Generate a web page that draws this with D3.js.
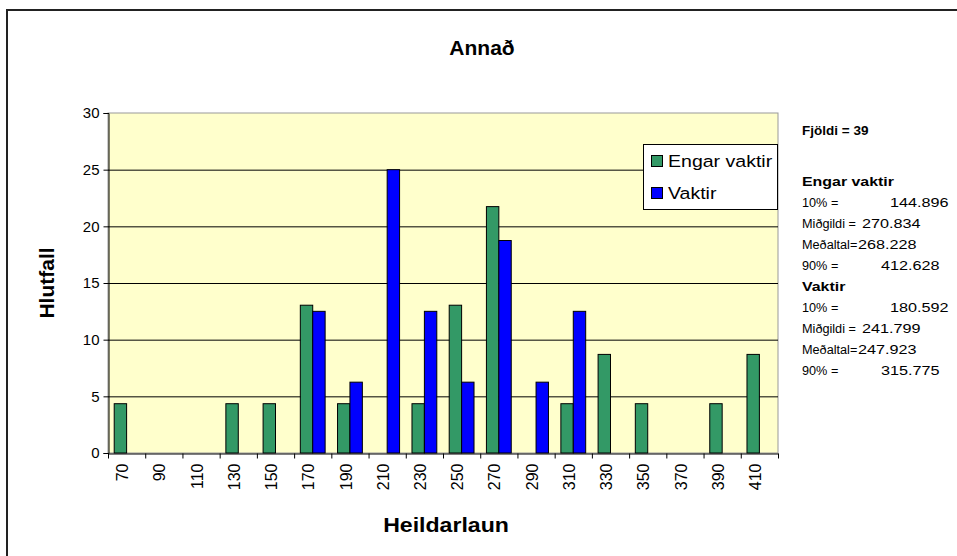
<!DOCTYPE html>
<html>
<head>
<meta charset="utf-8">
<script src="https://cdn.jsdelivr.net/npm/d3@7"></script>
<style>
  body { margin: 0; background: #fff; }
  text { font-family: "Liberation Sans", Arial, sans-serif; }
</style>
</head>
<body>
<div id="chart"></div>
<script>
// data
var categories = ["70", "90", "110", "130", "150", "170", "190", "210", "230", "250",
                  "270", "290", "310", "330", "350", "370", "390", "410"];
var engarVaktir = [4.35, 0, 0, 4.35, 4.35, 13.04, 4.35, 0, 4.35, 13.04,
                   21.74, 0, 4.35, 8.70, 4.35, 0, 4.35, 8.70];
var vaktir = [0, 0, 0, 0, 0, 12.5, 6.25, 25, 12.5, 6.25,
              18.75, 6.25, 12.5, 0, 0, 0, 0, 0];
var seriesNames = ["Engar vaktir", "Vaktir"];
var yTicks = [0, 5, 10, 15, 20, 25, 30];
var fjoldi = 39;
var statLabels = ["10% =", "Miðgildi =", "Meðaltal=", "90% ="];
var statsEngar = ["144.896", "270.834", "268.228", "412.628"];
var statsVaktir = ["180.592", "241.799", "247.923", "315.775"];

var colors = ["#339966", "#0000ff"];

var W = 957, H = 556;
var plot = { left: 108, top: 113, right: 778, bottom: 453 };

var svg = d3.select("#chart")
    .append("svg")
    .attr("width", W)
    .attr("height", H);

// text that is a bit wider than normal, like the excel export
function wideText(parent, x, y, s, str) {
    return parent.append("text")
        .attr("transform", "translate(" + x + "," + y + ") scale(" + s + ",1)")
        .text(str);
}

// outer frame
svg.append("rect")
    .attr("x", 7).attr("y", 10)
    .attr("width", W + 20).attr("height", H + 20)
    .attr("fill", "#fff")
    .attr("stroke", "#222")
    .attr("stroke-width", 2);

// scales
var x0 = d3.scaleBand()
    .domain(categories)
    .range([plot.left, plot.right]);
var bw = x0.bandwidth() / 3;   // gap width 100%
var y = d3.scaleLinear().domain([0, 30]).range([plot.bottom, plot.top]);

// plot area
svg.append("rect")
    .attr("x", plot.left).attr("y", plot.top)
    .attr("width", plot.right - plot.left)
    .attr("height", plot.bottom - plot.top)
    .attr("fill", "#ffffcc")
    .attr("stroke", "#999")
    .attr("stroke-width", 1);

// grid lines
svg.append("g")
    .selectAll("line")
    .data(yTicks.filter(function (d) { return d > 0 && d < 30; }))
    .enter().append("line")
    .attr("x1", plot.left).attr("x2", plot.right)
    .attr("y1", function (d) { return y(d) + 0.5; })
    .attr("y2", function (d) { return y(d) + 0.5; })
    .attr("stroke", "#000")
    .attr("stroke-width", 1);

// bars
var series = [engarVaktir, vaktir];
series.forEach(function (vals, si) {
    var pts = vals.map(function (v, i) { return { cat: categories[i], v: v }; })
        .filter(function (d) { return d.v > 0; });
    svg.append("g")
        .selectAll("rect")
        .data(pts)
        .enter().append("rect")
        .attr("x", function (d) { return x0(d.cat) + bw / 2 + si * bw; })
        .attr("y", function (d) { return y(d.v); })
        .attr("width", bw)
        .attr("height", function (d) { return y(0) - y(d.v); })
        .attr("fill", colors[si])
        .attr("stroke", "#000")
        .attr("stroke-width", 1);
});

// y axis
var yAxis = d3.axisLeft(y).tickValues(yTicks).tickSize(5).tickPadding(4);
var gy = svg.append("g")
    .attr("transform", "translate(" + (plot.left + 0.5) + ",0)")
    .call(yAxis);
gy.selectAll("text").style("font-size", "15px").attr("fill", "#000");
gy.selectAll("line, path").attr("stroke", "#000");

// x axis
var xAxis = d3.axisBottom(x0).tickSize(0).tickPadding(0);
var gx = svg.append("g")
    .attr("transform", "translate(0," + (plot.bottom + 0.5) + ")")
    .call(xAxis);
gx.select("path").attr("stroke", "#000");
gx.selectAll(".tick line").remove();
gx.selectAll("text")
    .style("font-size", "16px")
    .attr("fill", "#000")
    .attr("text-anchor", "end")
    .attr("dy", "0.35em")
    .attr("transform", "translate(-4,10) rotate(-90)")
    .attr("x", 0).attr("y", 0);
// tick marks between categories
gx.append("g")
    .selectAll("line")
    .data(categories.concat(["end"]))
    .enter().append("line")
    .attr("x1", function (d, i) { return plot.left + i * x0.step() + 0.5; })
    .attr("x2", function (d, i) { return plot.left + i * x0.step() + 0.5; })
    .attr("y1", 0).attr("y2", 5)
    .attr("stroke", "#000");

// title
svg.append("text")
    .attr("x", 482).attr("y", 55)
    .attr("text-anchor", "middle")
    .attr("font-weight", "bold")
    .style("font-size", "21px")
    .text("Annað");

// axis titles
svg.append("text")
    .attr("transform", "translate(446,532) scale(1.1,1)")
    .attr("text-anchor", "middle")
    .attr("font-weight", "bold")
    .style("font-size", "21px")
    .text("Heildarlaun");

svg.append("text")
    .attr("transform", "translate(54,283) rotate(-90)")
    .attr("text-anchor", "middle")
    .attr("font-weight", "bold")
    .style("font-size", "21px")
    .text("Hlutfall");

// legend
var legend = svg.append("g");
legend.append("rect")
    .attr("x", 643.5).attr("y", 144.5)
    .attr("width", 134).attr("height", 65)
    .attr("fill", "#fff")
    .attr("stroke", "#000");
seriesNames.forEach(function (name, i) {
    legend.append("rect")
        .attr("x", 651.5).attr("y", 155.5 + i * 32)
        .attr("width", 11).attr("height", 11)
        .attr("fill", colors[i])
        .attr("stroke", "#000");
    wideText(legend, 668, 167 + i * 32, 1.15, name)
        .style("font-size", "17px");
});

// statistics text
var stats = svg.append("g").style("font-size", "13.5px");
wideText(stats, 802, 135, 1.0, "Fjöldi = " + fjoldi)
    .attr("font-weight", "bold");

function statBlock(title, vals, y0) {
    wideText(stats, 802, y0, 1.18, title)
        .attr("font-weight", "bold");
    var valX = [890, 862, 858, 881];
    statLabels.forEach(function (lab, i) {
        wideText(stats, 802, y0 + 21 * (i + 1), 0.94, lab);
        wideText(stats, valX[i], y0 + 21 * (i + 1), 1.2, vals[i]);
    });
}
statBlock(seriesNames[0], statsEngar, 186);
statBlock(seriesNames[1], statsVaktir, 291);
</script>
</body>
</html>
